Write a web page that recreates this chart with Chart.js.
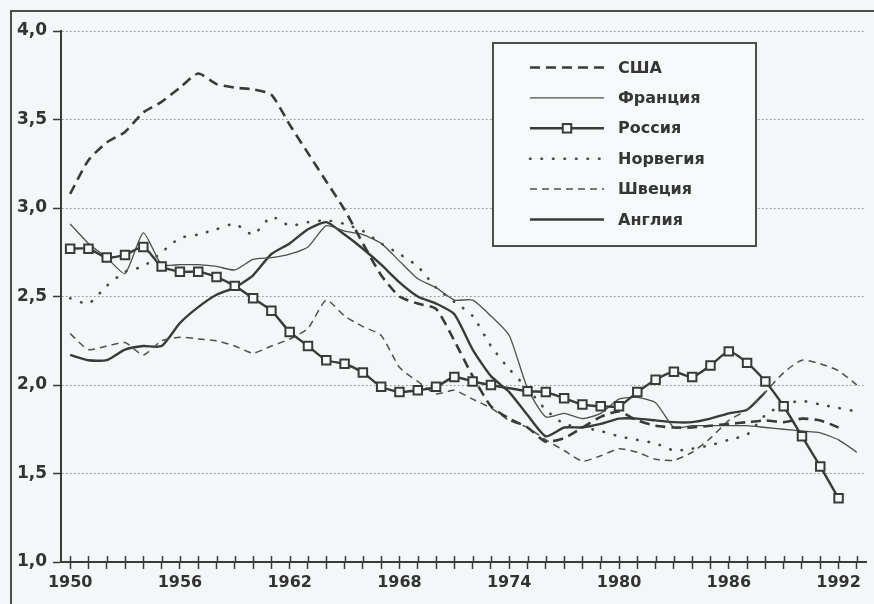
<!DOCTYPE html>
<html>
<head>
<meta charset="utf-8">
<script src="https://cdn.jsdelivr.net/npm/chart.js@4.4.1/dist/chart.umd.min.js"></script>
<style>
html,body{margin:0;padding:0;background:#f3f7f8;overflow:hidden;}
#wrap{position:relative;width:874px;height:604px;overflow:hidden;}
#frame{position:absolute;left:10px;top:10px;width:1000px;height:1000px;border-left:2px solid #4d4d4d;border-top:2px solid #4d4d4d;}
canvas{position:absolute;left:0;top:0;}
</style>
</head>
<body>
<div id="wrap"><div id="frame"></div><canvas id="c" width="874" height="604"></canvas></div>
<script>
// ---- data ----
const years = [1950,1951,1952,1953,1954,1955,1956,1957,1958,1959,
               1960,1961,1962,1963,1964,1965,1966,1967,1968,1969,
               1970,1971,1972,1973,1974,1975,1976,1977,1978,1979,
               1980,1981,1982,1983,1984,1985,1986,1987,1988,1989,
               1990,1991,1992,1993];
const labelYears = [1950,1956,1962,1968,1974,1980,1986,1992];
const yTicks = [1.0,1.5,2.0,2.5,3.0,3.5,4.0];

const usa = [3.08,3.27,3.37,3.43,3.54,3.60,3.68,3.76,3.70,3.68,
             3.67,3.64,3.47,3.31,3.15,2.99,2.80,2.62,2.50,2.46,
             2.43,2.25,2.05,1.88,1.81,1.76,1.68,1.70,1.76,1.82,
             1.85,1.80,1.77,1.76,1.76,1.77,1.78,1.79,1.80,1.79,
             1.81,1.80,1.76,null];
const france = [2.91,2.80,2.72,2.63,2.86,2.68,2.68,2.68,2.67,2.65,
                2.71,2.72,2.74,2.78,2.90,2.87,2.85,2.80,2.70,2.60,
                2.55,2.48,2.48,2.39,2.28,1.98,1.82,1.84,1.81,1.84,
                1.92,1.93,1.90,1.76,1.77,1.77,1.77,1.77,1.76,1.75,
                1.74,1.73,1.69,1.62];
const russia = [2.77,2.77,2.72,2.735,2.78,2.67,2.64,2.64,2.61,2.56,
                2.49,2.42,2.30,2.22,2.14,2.12,2.07,1.99,1.96,1.97,
                1.99,2.045,2.02,2.00,null,1.965,1.96,1.925,1.89,1.88,
                1.88,1.96,2.03,2.075,2.045,2.11,2.19,2.125,2.02,1.88,
                1.71,1.54,1.36,null];
const norway = [2.49,2.46,2.56,2.64,2.67,2.75,2.83,2.85,2.88,2.91,
                2.85,2.95,2.90,2.92,2.93,2.91,2.87,2.80,2.74,2.67,
                2.55,2.47,2.39,2.22,2.09,1.98,1.86,1.78,1.76,1.74,
                1.71,1.69,1.67,1.63,1.64,1.66,1.69,1.72,1.83,1.89,
                1.91,1.89,1.87,1.85];
const sweden = [2.29,2.20,2.22,2.24,2.17,2.25,2.27,2.26,2.25,2.22,
                2.18,2.22,2.26,2.32,2.48,2.39,2.33,2.28,2.10,2.02,
                1.95,1.97,1.92,1.87,1.80,1.76,1.69,1.63,1.57,1.60,
                1.64,1.62,1.58,1.575,1.62,1.70,1.80,1.86,1.96,2.07,
                2.14,2.12,2.08,2.00];
const england = [2.17,2.14,2.14,2.20,2.22,2.22,2.35,2.44,2.51,2.55,
                 2.62,2.74,2.80,2.88,2.92,2.85,2.77,2.68,2.58,2.50,
                 2.46,2.40,2.20,2.05,1.96,1.83,1.71,1.76,1.76,1.78,
                 1.81,1.81,1.80,1.79,1.79,1.81,1.84,1.86,1.96,null,
                 null,null,null,null];
const seriesNames = ['США','Франция','Россия','Норвегия','Швеция','Англия'];

// ---- build ----
const pts = arr => years.map((y, i) => ({x: y, y: arr[i]}));
const dark = '#3a3a3a', thin = '#4f4f4f';

const datasets = [
  {label: seriesNames[0], data: pts(usa), borderColor: dark, borderWidth: 2.6, borderDash: [10, 6], pointRadius: 0, order: 0},
  {label: seriesNames[1], data: pts(france), borderColor: thin, borderWidth: 1.3, borderDash: [], pointRadius: 0, order: 0},
  {label: seriesNames[2], data: pts(russia), borderColor: dark, borderWidth: 2.4, borderDash: [], pointRadius: 6, pointStyle: 'rect',
   pointBackgroundColor: '#f7fafa', pointBorderColor: dark, pointBorderWidth: 2, spanGaps: true, order: -1},
  {label: seriesNames[3], data: pts(norway), borderColor: '#474747', borderWidth: 2.6, borderDash: [0.5, 11], borderCapStyle: 'round', pointRadius: 0, order: 0},
  {label: seriesNames[4], data: pts(sweden), borderColor: thin, borderWidth: 1.5, borderDash: [7, 5], pointRadius: 0, order: 0},
  {label: seriesNames[5], data: pts(england), borderColor: dark, borderWidth: 2.4, borderDash: [], pointRadius: 0, order: 0}
];

const crossTicks = {
  id: 'crossTicks',
  afterDraw(chart) {
    const xs = chart.scales.x, ctx = chart.ctx, b = chart.chartArea.bottom;
    ctx.save();
    ctx.strokeStyle = dark; ctx.lineWidth = 1.5;
    xs.ticks.forEach(t => {
      const x = Math.round(xs.getPixelForValue(t.value)) + 0.5;
      ctx.beginPath(); ctx.moveTo(x, b - 6); ctx.lineTo(x, b); ctx.stroke();
    });
    ctx.restore();
  }
};

const boxLegend = {
  id: 'boxLegend',
  afterDatasetsDraw(chart) {
    const ctx = chart.ctx;
    const bx = 493, by = 43, bw = 263, bh = 203;
    ctx.save();
    ctx.fillStyle = '#f6f9fa';
    ctx.fillRect(bx, by, bw, bh);
    ctx.lineWidth = 2; ctx.strokeStyle = '#4d4d4d';
    ctx.strokeRect(bx, by, bw, bh);
    chart.data.datasets.forEach((ds, i) => {
      const y = 67.5 + i * 30.4;
      ctx.save();
      ctx.setLineDash(ds.borderDash || []);
      ctx.lineCap = ds.borderCapStyle || 'butt';
      ctx.lineWidth = ds.borderWidth;
      ctx.strokeStyle = ds.borderColor;
      ctx.beginPath(); ctx.moveTo(530, y); ctx.lineTo(604, y); ctx.stroke();
      ctx.restore();
      if (ds.pointRadius > 0) {
        const s = ds.pointRadius * Math.SQRT1_2;
        ctx.fillStyle = ds.pointBackgroundColor;
        ctx.strokeStyle = ds.pointBorderColor;
        ctx.lineWidth = ds.pointBorderWidth;
        ctx.fillRect(567 - s, y - s, 2 * s, 2 * s);
        ctx.strokeRect(567 - s, y - s, 2 * s, 2 * s);
      }
      ctx.fillStyle = '#353535';
      ctx.font = 'bold 16px "DejaVu Sans"';
      ctx.textBaseline = 'middle';
      ctx.textAlign = 'left';
      ctx.fillText(ds.label, 618, y + 1);
    });
    ctx.restore();
  }
};

new Chart(document.getElementById('c'), {
  type: 'line',
  data: {datasets},
  options: {
    responsive: false,
    animation: false,
    events: [],
    devicePixelRatio: 1,
    layout: {padding: {top: 31, left: 0, right: 0, bottom: 0}},
    elements: {line: {tension: 0.2}},
    plugins: {legend: {display: false}, tooltip: {enabled: false}},
    scales: {
      x: {
        type: 'linear', min: 1949.5, max: 1993.5,
        afterBuildTicks: s => { s.ticks = years.map(v => ({value: v})); },
        afterFit: s => { s.height = 42; },
        ticks: {autoSkip: false, maxRotation: 0, minRotation: 0, padding: 4, color: '#333',
                font: {family: 'DejaVu Sans', weight: 'bold', size: 16},
                callback: v => labelYears.includes(v) ? String(v) : ''},
        grid: {drawOnChartArea: false, tickLength: 7, tickColor: dark, tickWidth: 1.5},
        border: {color: dark, width: 2}
      },
      y: {
        type: 'linear', min: 1, max: 4,
        afterBuildTicks: s => { s.ticks = yTicks.map(v => ({value: v})); },
        afterFit: s => { s.width = 61; },
        ticks: {padding: 6, color: '#333', font: {family: 'DejaVu Sans', weight: 'bold', size: 17},
                callback: v => v.toFixed(1).replace('.', ',')},
        grid: {color: c => (c.tick && c.tick.value === 1) ? 'rgba(0,0,0,0)' : '#8c8c8c',
               lineWidth: 1, tickLength: 8, tickColor: dark, tickWidth: 1.5, tickBorderDash: []},
        border: {color: dark, width: 2, dash: [1.5, 2.5]}
      }
    }
  },
  plugins: [crossTicks, boxLegend]
});
</script>
</body>
</html>
